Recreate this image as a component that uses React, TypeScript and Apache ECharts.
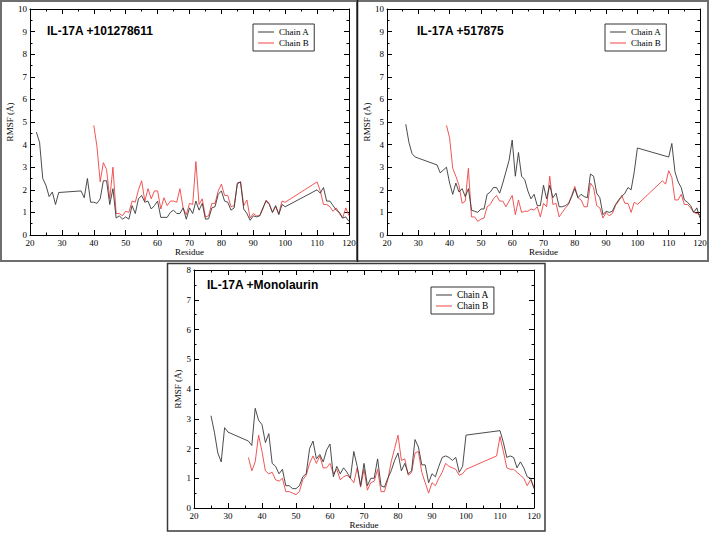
import React, { useEffect, useRef } from "react";
import * as echarts from "echarts";

// ---------- DATA: [residue, RMSF (Å)] ----------
const p1ChainA: [number, number][] = [
  [22, 4.55], [23, 4.1], [24, 2.5], [25, 2.2], [26, 1.7], [27, 1.9], [28, 1.35], [29, 1.88],
  [36, 1.95], [37, 1.65], [38, 2.5], [39, 1.45], [40, 1.45], [41, 1.4], [42, 1.6], [43, 2.4],
  [44, 2.4], [45, 1.35], [46, 2.05], [47, 0.75], [48, 0.85], [49, 0.7], [50, 0.8], [51, 0.7],
  [52, 1.3], [53, 0.95], [54, 1.6], [55, 1.75], [56, 1.45], [57, 1.5], [58, 1.15], [59, 1.3],
  [60, 1.5], [61, 0.78], [62, 0.78], [63, 0.78], [64, 1.0], [65, 1.1], [66, 0.95], [67, 0.95],
  [68, 1.2], [69, 0.7], [70, 1.2], [71, 0.95], [72, 1.5], [73, 1.1], [74, 1.4], [75, 0.7],
  [76, 0.72], [77, 1.2], [78, 1.25], [79, 1.8], [80, 1.95], [81, 1.5], [82, 1.45], [83, 1.1],
  [84, 1.2], [85, 2.3], [86, 2.35], [87, 1.15], [88, 0.95], [89, 0.65], [90, 0.85], [91, 0.8],
  [92, 0.85], [93, 1.2], [94, 1.5], [95, 1.35], [96, 1.0], [97, 1.3], [98, 0.9], [99, 1.35],
  [100, 1.25], [110, 2.0], [111, 1.85], [112, 2.1], [113, 1.5], [114, 1.5], [115, 1.3],
  [116, 1.1], [117, 1.0], [118, 0.75], [119, 0.8], [120, 0.6],
];
const p1ChainB: [number, number][] = [
  [40, 4.85], [41, 3.9], [42, 2.35], [43, 3.2], [44, 2.9], [45, 1.6], [46, 3.0], [47, 0.95],
  [48, 0.95], [49, 0.85], [50, 1.05], [51, 1.0], [52, 1.5], [53, 1.45], [54, 2.0], [55, 2.4],
  [56, 1.5], [57, 2.05], [58, 1.6], [59, 1.95], [60, 1.95], [61, 1.15], [62, 1.65], [63, 1.3],
  [64, 1.5], [65, 1.5], [66, 1.45], [67, 2.05], [68, 1.2], [69, 0.9], [70, 1.4], [71, 1.35],
  [72, 3.25], [73, 1.35], [74, 1.6], [75, 0.8], [76, 0.85], [77, 1.4], [78, 1.4], [79, 1.95],
  [80, 2.25], [81, 1.75], [82, 1.75], [83, 1.25], [84, 1.3], [85, 2.25], [86, 2.35], [87, 1.3],
  [88, 1.55], [89, 0.75], [90, 0.95], [91, 0.85], [92, 0.85], [93, 1.15], [94, 1.55], [95, 1.4],
  [96, 1.0], [97, 1.25], [98, 0.95], [99, 1.5], [100, 1.45], [110, 2.35], [111, 1.95],
  [112, 1.35], [113, 1.35], [114, 1.25], [115, 1.05], [116, 1.2], [117, 0.95], [118, 0.75],
  [119, 1.2], [120, 0.85],
];

const p2ChainA: [number, number][] = [
  [26, 4.9], [27, 4.1], [28, 3.6], [29, 3.45], [30, 3.4], [36, 3.1], [37, 2.75], [39, 3.0],
  [40, 2.3], [41, 1.8], [42, 2.3], [43, 1.9], [44, 2.05], [45, 1.7], [46, 2.05], [47, 1.1],
  [48, 1.05], [49, 1.0], [50, 1.15], [51, 1.15], [52, 1.8], [53, 1.9], [54, 2.1], [55, 2.1],
  [56, 1.85], [57, 2.3], [58, 2.8], [59, 3.3], [60, 4.2], [61, 2.6], [62, 3.65], [63, 2.6],
  [64, 2.45], [65, 1.95], [66, 1.6], [67, 1.8], [68, 1.3], [69, 1.3], [70, 2.2], [71, 1.6],
  [72, 2.2], [73, 1.65], [74, 1.85], [75, 1.25], [76, 1.25], [77, 1.3], [78, 1.4], [79, 1.7],
  [80, 2.05], [81, 1.65], [82, 1.8], [83, 1.7], [84, 1.65], [85, 2.7], [86, 2.6], [87, 1.85],
  [88, 1.65], [89, 0.9], [90, 1.05], [91, 1.0], [92, 1.05], [93, 1.35], [94, 1.55], [95, 1.7],
  [96, 1.85], [97, 2.1], [98, 2.0], [99, 2.8], [100, 3.85], [110, 3.45], [111, 4.05],
  [112, 2.8], [113, 2.35], [114, 2.1], [115, 1.55], [116, 1.45], [117, 1.3], [118, 1.0],
  [119, 1.2], [120, 0.75],
];
const p2ChainB: [number, number][] = [
  [39, 4.85], [40, 4.3], [41, 2.95], [42, 2.6], [43, 2.2], [44, 1.4], [45, 1.5], [46, 2.95],
  [47, 0.8], [48, 0.8], [49, 0.6], [50, 0.7], [51, 0.75], [52, 1.25], [53, 1.35], [54, 1.6],
  [55, 1.75], [56, 1.5], [57, 1.5], [58, 1.25], [59, 1.5], [60, 1.75], [61, 0.9], [62, 1.55],
  [63, 1.0], [64, 1.05], [65, 1.05], [66, 1.15], [67, 1.1], [68, 1.25], [69, 0.8], [70, 1.4],
  [71, 1.25], [72, 2.6], [73, 1.35], [74, 1.4], [75, 0.8], [76, 1.0], [77, 1.2], [78, 1.35],
  [79, 1.75], [80, 2.15], [81, 1.65], [82, 1.55], [83, 1.25], [84, 1.25], [85, 2.3], [86, 2.1],
  [87, 1.3], [88, 1.2], [89, 0.75], [90, 1.0], [91, 0.85], [92, 0.95], [93, 1.3], [94, 1.5],
  [95, 1.75], [96, 1.4], [97, 1.4], [98, 1.0], [99, 1.45], [100, 1.35], [108, 2.4], [109, 2.25],
  [110, 2.85], [111, 2.55], [112, 1.55], [113, 1.55], [114, 1.8], [115, 1.35], [116, 1.35],
  [117, 1.2], [118, 1.0], [119, 0.95], [120, 0.9],
];

const p3ChainA: [number, number][] = [
  [25, 3.1], [26, 2.55], [27, 1.85], [28, 1.55], [29, 2.7], [30, 2.55], [36, 2.25], [37, 2.1],
  [38, 3.35], [39, 2.95], [40, 2.8], [41, 2.2], [42, 2.5], [43, 1.5], [44, 1.4], [45, 1.15],
  [46, 1.3], [47, 0.75], [48, 0.75], [49, 0.65], [50, 0.65], [51, 0.75], [52, 1.05], [53, 1.15],
  [54, 2.0], [55, 2.25], [56, 1.65], [57, 1.8], [58, 1.55], [59, 1.95], [60, 2.15], [61, 1.05],
  [62, 1.4], [63, 1.15], [64, 1.35], [65, 1.2], [66, 1.0], [67, 1.9], [68, 1.4], [69, 0.75],
  [70, 1.5], [71, 0.75], [72, 1.0], [73, 1.0], [74, 1.65], [75, 0.75], [76, 0.7], [77, 1.0],
  [78, 1.25], [79, 1.6], [80, 1.85], [81, 1.25], [82, 1.5], [83, 1.15], [84, 1.25], [85, 2.3],
  [86, 2.05], [87, 1.45], [88, 1.45], [89, 0.85], [90, 1.15], [91, 1.05], [92, 1.4], [93, 1.7],
  [94, 1.75], [95, 1.7], [96, 1.6], [97, 1.7], [98, 1.2], [99, 1.4], [100, 2.45], [110, 2.6],
  [111, 2.2], [112, 1.7], [113, 1.75], [114, 1.7], [115, 1.35], [116, 1.55], [117, 1.35],
  [118, 1.05], [119, 1.0], [120, 0.65],
];
const p3ChainB: [number, number][] = [
  [36, 1.7], [37, 1.25], [38, 1.55], [39, 2.45], [40, 1.9], [41, 1.25], [42, 1.15], [43, 1.2],
  [44, 0.95], [45, 0.9], [46, 1.0], [47, 0.55], [48, 0.55], [49, 0.5], [50, 0.45], [51, 0.55],
  [52, 0.95], [53, 1.1], [54, 1.5], [55, 1.75], [56, 1.5], [57, 1.75], [58, 1.35], [59, 1.35],
  [60, 1.5], [61, 1.15], [62, 1.3], [63, 0.95], [64, 1.05], [65, 1.1], [66, 1.0], [67, 0.85],
  [68, 1.35], [69, 0.7], [70, 1.3], [71, 0.6], [72, 0.85], [73, 0.9], [74, 1.3], [75, 0.55],
  [76, 0.55], [77, 0.95], [78, 1.55], [79, 2.0], [80, 2.45], [81, 1.6], [82, 1.65], [83, 1.1],
  [84, 1.2], [85, 1.85], [86, 1.9], [87, 1.2], [88, 0.85], [89, 0.5], [90, 0.85], [91, 0.75],
  [92, 1.0], [93, 1.2], [94, 1.5], [95, 1.4], [96, 1.35], [97, 1.3], [98, 1.1], [99, 1.15],
  [100, 1.3], [109, 1.75], [110, 2.4], [111, 1.9], [112, 1.35], [113, 1.3], [114, 1.3],
  [115, 1.2], [116, 1.1], [117, 1.0], [118, 0.75], [119, 0.95], [120, 0.7],
];

const panelTitles = ["IL-17A +101278611", "IL-17A +517875", "IL-17A +Monolaurin"];
const seriesNames = ["Chain A", "Chain B"];
const xAxisName = "Residue";
const yAxisName = "RMSF (Å)";
const xRange = [20, 120];
const yMaxes = [10, 10, 8];

// ---------- LAYOUT ----------
const layouts = [
  { grid: { left: 30, top: 9, width: 319, height: 226 }, title: { left: 47, top: 25 }, legend: { left: 253, top: 24 }, yGap: 15, xGap: 11, legendFont: 9 },
  { grid: { left: 387, top: 9, width: 313, height: 226 }, title: { left: 417, top: 25 }, legend: { left: 605, top: 24 }, yGap: 15, xGap: 11, legendFont: 9 },
  { grid: { left: 194, top: 270, width: 340, height: 238 }, title: { left: 207, top: 279 }, legend: { left: 431, top: 287 }, yGap: 12, xGap: 12, legendFont: 9.5 },
];

const COLOR_A = "#383838";
const COLOR_B = "#ee4444";
const SERIF = "'Liberation Serif', 'DejaVu Serif', serif";
const SANS = "'Liberation Sans', Arial, sans-serif";

function buildOption() {
  const data = [
    [p1ChainA, p1ChainB],
    [p2ChainA, p2ChainB],
    [p3ChainA, p3ChainB],
  ];
  const grid: any[] = [];
  const xAxis: any[] = [];
  const yAxis: any[] = [];
  const series: any[] = [];
  const title: any[] = [];
  const legend: any[] = [];

  const tickCommon = {
    axisLine: { show: true, onZero: false, lineStyle: { color: "#000", width: 1 } },
    axisTick: { show: true, inside: true, length: 5, lineStyle: { color: "#000", width: 1 } },
    minorTick: { show: true, splitNumber: 2, length: 2.5, lineStyle: { color: "#000", width: 1 } },
    splitLine: { show: false },
    minorSplitLine: { show: false },
  };

  layouts.forEach((lay, i) => {
    grid.push({ ...lay.grid, containLabel: false });
    const labelStyle = { color: "#000", fontFamily: SERIF, fontSize: 9 };
    xAxis.push({
      gridIndex: i, type: "value", position: "bottom", min: xRange[0], max: xRange[1], interval: 10,
      ...tickCommon,
      axisLabel: { ...labelStyle, margin: 3 },
      name: xAxisName, nameLocation: "middle", nameGap: lay.xGap,
      nameTextStyle: { color: "#000", fontFamily: SERIF, fontSize: 9 },
    });
    xAxis.push({
      gridIndex: i, type: "value", position: "top", min: xRange[0], max: xRange[1], interval: 10,
      ...tickCommon, axisLabel: { show: false },
    });
    yAxis.push({
      gridIndex: i, type: "value", position: "left", min: 0, max: yMaxes[i], interval: 1,
      ...tickCommon,
      axisLabel: { ...labelStyle, margin: 3 },
      name: yAxisName, nameLocation: "middle", nameGap: lay.yGap, nameRotate: 90,
      nameTextStyle: { color: "#000", fontFamily: SERIF, fontSize: 9 },
    });
    yAxis.push({
      gridIndex: i, type: "value", position: "right", min: 0, max: yMaxes[i], interval: 1,
      ...tickCommon, axisLabel: { show: false },
    });

    data[i].forEach((d, j) => {
      series.push({
        type: "line", name: seriesNames[j], xAxisIndex: 2 * i, yAxisIndex: 2 * i,
        data: d, symbol: "none", showSymbol: false, silent: true,
        color: j === 0 ? COLOR_A : COLOR_B,
        lineStyle: { width: 0.9, color: j === 0 ? COLOR_A : COLOR_B },
        z: j === 0 ? 3 : 2,
      });
    });

    title.push({
      text: panelTitles[i], left: lay.title.left, top: lay.title.top, padding: 0,
      textStyle: { fontFamily: SANS, fontWeight: "bold", fontSize: 12, color: "#000" },
    });

    legend.push({
      data: seriesNames, orient: "vertical", left: lay.legend.left, top: lay.legend.top,
      icon: "rect", itemWidth: 16, itemHeight: 1, itemGap: 1,
      padding: [3, 5, 3, 5], borderColor: "#333", borderWidth: 1, backgroundColor: "#fff",
      selectedMode: false,
      textStyle: { fontFamily: SERIF, fontSize: lay.legendFont, color: "#000", lineHeight: 10 },
    });
  });

  const graphic = [
    { type: "rect", shape: { x: 1, y: 1, width: 356, height: 260 }, style: { fill: "none", stroke: "#6e6e6e", lineWidth: 2 }, silent: true },
    { type: "rect", shape: { x: 357, y: 1, width: 351, height: 260 }, style: { fill: "none", stroke: "#6e6e6e", lineWidth: 2 }, silent: true },
    { type: "line", shape: { x1: 357.5, y1: 0, x2: 357.5, y2: 262 }, style: { stroke: "#1a1a1a", lineWidth: 1.5 }, silent: true },
    { type: "rect", shape: { x: 167.5, y: 263.5, width: 377.5, height: 267.5 }, style: { fill: "none", stroke: "#3a3a3a", lineWidth: 1.5 }, silent: true },
  ];

  return { animation: false, backgroundColor: "#fff", grid, xAxis, yAxis, series, title, legend, graphic };
}

export default function App() {
  const ref = useRef<HTMLDivElement>(null);
  useEffect(() => {
    if (!ref.current) return;
    const chart = echarts.init(ref.current, null, { renderer: "svg" });
    chart.setOption(buildOption() as any);
    return () => chart.dispose();
  }, []);
  return (
    <div
      ref={ref}
      style={{ position: "absolute", left: 0, top: 0, width: 710, height: 533, background: "#fff" }}
    />
  );
}
